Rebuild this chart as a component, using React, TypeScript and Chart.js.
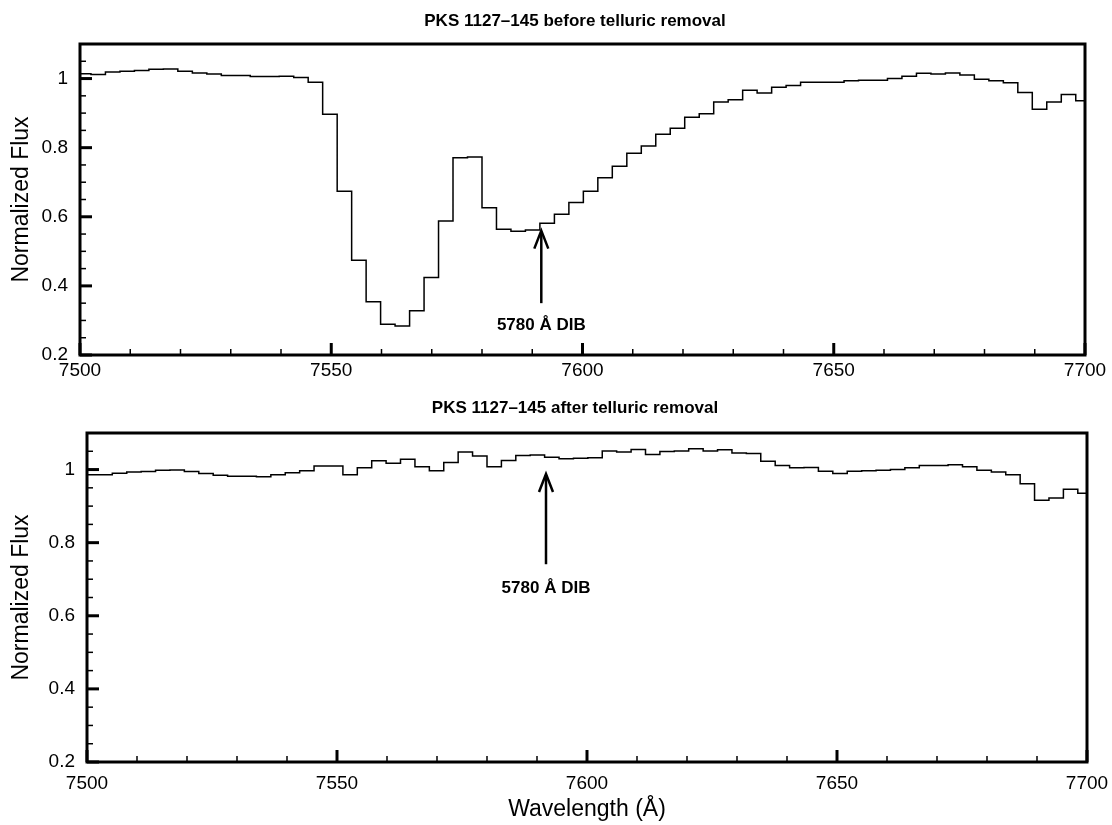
import React, { useEffect, useRef } from "react";
import { Chart, registerables } from "chart.js";

Chart.register(...registerables);

// ---- Data ----
// left edges of the spectral bins (Å); the last entry closes the final bin
const binEdges = [
  7499.3, 7502.18, 7505.06, 7507.95, 7510.83, 7513.71, 7516.59, 7519.47, 7522.36, 7525.24,
  7528.12, 7531.0, 7533.88, 7536.77, 7539.65, 7542.53, 7545.41, 7548.29, 7551.18, 7554.06,
  7556.94, 7559.82, 7562.7, 7565.59, 7568.47, 7571.35, 7574.23, 7577.11, 7580.0, 7582.88,
  7585.76, 7588.64, 7591.52, 7594.41, 7597.29, 7600.17, 7603.05, 7605.93, 7608.82, 7611.7,
  7614.58, 7617.46, 7620.34, 7623.23, 7626.11, 7628.99, 7631.87, 7634.75, 7637.64, 7640.52,
  7643.4, 7646.28, 7649.16, 7652.05, 7654.93, 7657.81, 7660.69, 7663.57, 7666.46, 7669.34,
  7672.22, 7675.1, 7677.98, 7680.87, 7683.75, 7686.63, 7689.51, 7692.39, 7695.28, 7698.16,
  7701.04,
];

const fluxBefore = [
  1.014, 1.012, 1.019, 1.021, 1.023, 1.027, 1.028, 1.021, 1.016, 1.013,
  1.009, 1.009, 1.006, 1.006, 1.007, 1.003, 0.989, 0.897, 0.674, 0.474,
  0.354, 0.289, 0.284, 0.328, 0.424, 0.588, 0.771, 0.773, 0.626, 0.564,
  0.558, 0.562, 0.581, 0.607, 0.641, 0.674, 0.713, 0.746, 0.784, 0.805,
  0.839, 0.856, 0.888, 0.898, 0.932, 0.939, 0.966, 0.958, 0.975, 0.98,
  0.989, 0.989, 0.989, 0.994, 0.995, 0.995, 1.0, 1.007, 1.015, 1.013,
  1.016, 1.01, 0.998, 0.994, 0.988, 0.96, 0.911, 0.932, 0.954, 0.936,
];

const fluxAfter = [
  0.986, 0.986, 0.99, 0.993, 0.9945, 0.998, 0.999, 0.9945, 0.989, 0.9845,
  0.982, 0.982, 0.98, 0.9855, 0.991, 0.997, 1.01, 1.01, 0.9855, 1.005,
  1.024, 1.0175, 1.0285, 1.0075, 0.997, 1.019, 1.048, 1.037, 1.008, 1.025,
  1.0385, 1.04, 1.034, 1.0295, 1.031, 1.032, 1.051, 1.048, 1.055, 1.041,
  1.0495, 1.0505, 1.057, 1.0505, 1.054, 1.045, 1.044, 1.023, 1.011, 1.005,
  1.0055, 0.9955, 0.989, 0.9955, 0.997, 0.998, 1.0, 1.005, 1.011, 1.011,
  1.013, 1.008, 0.998, 0.993, 0.9855, 0.961, 0.916, 0.922, 0.946, 0.935,
];

const xTickLabels = [7500, 7550, 7600, 7650, 7700];
const yTickLabels = [0.2, 0.4, 0.6, 0.8, 1];

const titleBefore = "PKS 1127\u2013145 before telluric removal";
const titleAfter = "PKS 1127\u2013145 after telluric removal";
const yTitle = "Normalized Flux";
const xTitle = "Wavelength (\u00C5)";
const dibLabel = "5780 \u00C5 DIB";
const dibWavelength = 7591.8;

const FONT = '"Liberation Sans", Arial, Helvetica, sans-serif';

type PanelCfg = {
  flux: number[];
  title: string;
  width: number;
  height: number;
  padLeft: number;
  padRight: number;
  padTop: number;
  xAxisH: number;
  xLabelPad: number;
  xLabelShift: number;
  titleY: number;
  arrow: { tip: number; tail: number; label: number };
  showXTitle: boolean;
  xTitleY: number;
};

function makePoints(flux: number[]) {
  const pts = flux.map((v, i) => ({ x: binEdges[i], y: v }));
  pts.push({ x: binEdges[flux.length], y: flux[flux.length - 1] });
  return pts;
}

function Panel({ cfg }: { cfg: PanelCfg }) {
  const ref = useRef<HTMLCanvasElement | null>(null);
  useEffect(() => {
    const canvas = ref.current;
    if (!canvas) return;

    const decor = {
      id: "decor",
      afterDatasetsDraw(chart: any) {
        const { ctx, chartArea: a, scales } = chart;
        const xs = scales.x;
        const ys = scales.y;
        ctx.save();
        ctx.strokeStyle = "#000";
        ctx.fillStyle = "#000";
        ctx.lineCap = "butt";
        const seg = (x1: number, y1: number, x2: number, y2: number) => {
          ctx.beginPath();
          ctx.moveTo(x1, y1);
          ctx.lineTo(x2, y2);
          ctx.stroke();
        };
        // minor x ticks
        ctx.lineWidth = 1.5;
        for (let v = 7510; v < 7700; v += 10) {
          if (v % 50 === 0) continue;
          const px = xs.getPixelForValue(v);
          seg(px, a.bottom, px, a.bottom - 6);
        }
        // minor y ticks
        for (let k = 5; k <= 21; k++) {
          if (k % 4 === 0) continue;
          const v = k * 0.05;
          const py = ys.getPixelForValue(v);
          seg(a.left, py, a.left + 6, py);
        }
        // major ticks
        ctx.lineWidth = 3;
        for (const v of xTickLabels) {
          const px = xs.getPixelForValue(v);
          seg(px, a.bottom, px, a.bottom - 12);
        }
        for (const v of yTickLabels) {
          const py = ys.getPixelForValue(v);
          seg(a.left, py, a.left + 12, py);
        }
        // frame
        ctx.lineWidth = 3;
        ctx.strokeRect(a.left, a.top, a.right - a.left, a.bottom - a.top);

        // arrow
        const ax = xs.getPixelForValue(dibWavelength);
        const tipY = ys.getPixelForValue(cfg.arrow.tip);
        const tailY = ys.getPixelForValue(cfg.arrow.tail);
        ctx.lineWidth = 2.5;
        seg(ax, tailY, ax, tipY + 1);
        ctx.lineJoin = "miter";
        ctx.beginPath();
        ctx.moveTo(ax - 7, tipY + 18);
        ctx.lineTo(ax, tipY);
        ctx.lineTo(ax + 7, tipY + 18);
        ctx.stroke();

        ctx.textAlign = "center";
        ctx.textBaseline = "middle";
        ctx.font = `bold 17px ${FONT}`;
        ctx.fillText(dibLabel, ax, ys.getPixelForValue(cfg.arrow.label));

        // panel title
        ctx.font = `bold 17px ${FONT}`;
        ctx.fillText(cfg.title, 575, cfg.titleY);

        // y title
        ctx.save();
        ctx.translate(22, (a.top + a.bottom) / 2);
        ctx.rotate(-Math.PI / 2);
        ctx.font = `23px ${FONT}`;
        ctx.fillText(yTitle, 0, 0);
        ctx.restore();

        if (cfg.showXTitle) {
          ctx.font = `23px ${FONT}`;
          ctx.fillText(xTitle, (a.left + a.right) / 2, cfg.xTitleY);
        }
        ctx.restore();
      },
    };

    const chart = new Chart(canvas, {
      type: "line",
      data: {
        datasets: [
          {
            data: makePoints(cfg.flux),
            stepped: "before",
            borderColor: "#000",
            borderWidth: 1.5,
            pointRadius: 0,
            fill: false,
          },
        ],
      },
      options: {
        responsive: false,
        animation: false,
        devicePixelRatio: 1,
        layout: {
          padding: { left: 0, right: cfg.padRight, top: cfg.padTop, bottom: 0 },
        },
        plugins: {
          legend: { display: false },
          tooltip: { enabled: false },
          title: { display: false },
        },
        scales: {
          x: {
            type: "linear",
            min: 7500,
            max: 7700,
            grid: {
              display: false,
              drawTicks: cfg.xLabelShift > 0,
              tickLength: cfg.xLabelShift,
            },
            border: { display: false },
            afterBuildTicks: (s: any) => {
              s.ticks = xTickLabels.map((v) => ({ value: v }));
            },
            afterFit: (s: any) => {
              s.height = cfg.xAxisH;
            },
            ticks: {
              color: "#000",
              padding: cfg.xLabelPad,
              maxRotation: 0,
              font: { family: FONT, size: 19 },
              callback: (v: any) => String(v),
            },
          },
          y: {
            type: "linear",
            min: 0.2,
            max: 1.1,
            grid: { display: false, drawTicks: false },
            border: { display: false },
            afterBuildTicks: (s: any) => {
              s.ticks = yTickLabels.map((v) => ({ value: v }));
            },
            afterFit: (s: any) => {
              s.width = cfg.padLeft;
            },
            ticks: {
              color: "#000",
              padding: 12,
              font: { family: FONT, size: 19 },
              callback: (v: any) => String(Number(Number(v).toFixed(2))),
            },
          },
        },
      },
      plugins: [decor],
    } as any);
    return () => chart.destroy();
  }, [cfg]);
  return <canvas ref={ref} width={cfg.width} height={cfg.height} style={{ display: "block" }} />;
}

const topCfg: PanelCfg = {
  flux: fluxBefore,
  title: titleBefore,
  width: 1112,
  height: 395,
  padLeft: 80,
  padRight: 27,
  padTop: 44,
  xAxisH: 40,
  xLabelPad: 4,
  xLabelShift: 0,
  titleY: 21,
  arrow: { tip: 0.56, tail: 0.35, label: 0.287 },
  showXTitle: false,
  xTitleY: 0,
};

const bottomCfg: PanelCfg = {
  flux: fluxAfter,
  title: titleAfter,
  width: 1112,
  height: 430,
  padLeft: 87,
  padRight: 25,
  padTop: 38,
  xAxisH: 63,
  xLabelPad: 3,
  xLabelShift: 7,
  titleY: 13,
  arrow: { tip: 0.988, tail: 0.741, label: 0.675 },
  showXTitle: true,
  xTitleY: 415,
};

export default function App() {
  return (
    <div
      style={{
        position: "fixed",
        left: 0,
        top: 0,
        width: 1112,
        height: 825,
        background: "#fff",
      }}
    >
      <div style={{ position: "absolute", left: 0, top: 0 }}>
        <Panel cfg={topCfg} />
      </div>
      <div style={{ position: "absolute", left: 0, top: 395 }}>
        <Panel cfg={bottomCfg} />
      </div>
    </div>
  );
}
